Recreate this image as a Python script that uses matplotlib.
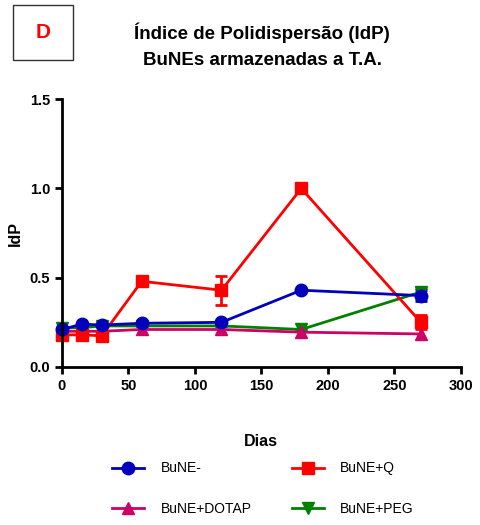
import numpy as np
import matplotlib
matplotlib.use("Agg")
import matplotlib.pyplot as plt
from matplotlib.patches import Rectangle

plt.rcParams['font.family'] = ['Liberation Sans', 'DejaVu Sans']

# dias de armazenamento
dias = [0, 15, 30, 60, 120, 180, 270]

bune = [0.21, 0.24, 0.235, 0.245, 0.25, 0.43, 0.40]
bune_err = [0, 0, 0, 0, 0, 0, 0.03]
bune_q = [0.18, 0.18, 0.175, 0.48, 0.43, 1.0, 0.25]
bune_q_err = [0, 0, 0, 0.02, 0.08, 0, 0.04]
bune_dotap = [0.20, 0.20, 0.20, 0.21, 0.21, 0.195, 0.185]
bune_peg = [0.22, 0.22, 0.23, 0.23, 0.23, 0.21, 0.42]
peg_err = [0, 0, 0, 0, 0, 0, 0.02]

fig = plt.figure(figsize=(4.8, 5.25), dpi=100)
ax = fig.add_axes([0.129, 0.301, 0.831, 0.510])

lw = 2
ebkw = dict(capsize=4, capthick=2, elinewidth=2, clip_on=False, lw=lw, ms=9)
hp = ax.errorbar(dias, bune_peg, yerr=peg_err, color='green', marker='v', **ebkw)
hd = ax.errorbar(dias, bune_dotap, color='#cc0066', marker='^', **ebkw)
hq = ax.errorbar(dias, bune_q, yerr=bune_q_err, color='red', marker='s', **ebkw)
hb = ax.errorbar(dias, bune, yerr=bune_err, color='#0000bb', marker='o', **ebkw)

ax.set_xlim(0, 300)
ax.set_ylim(0, 1.5)
ax.set_xticks(np.arange(0, 301, 50))
ax.set_yticks([0, 0.5, 1.0, 1.5])
ax.set_yticklabels(['0.0', '0.5', '1.0', '1.5'])
for s in ['top', 'right']:
    ax.spines[s].set_visible(False)
for s in ['left', 'bottom']:
    ax.spines[s].set_linewidth(2)
ax.tick_params(width=2, length=5, labelsize=10.5)
for lab in ax.get_xticklabels() + ax.get_yticklabels():
    lab.set_fontweight('bold')

ax.set_xlabel('Dias', fontsize=11.5, fontweight='bold', labelpad=30)
ax.set_ylabel('IdP', fontsize=11.5, fontweight='bold')
ax.yaxis.set_label_coords(-0.098, 0.5)

fig.text(0.546, 0.937, 'Índice de Polidispersão (IdP)', ha='center', va='center',
         fontsize=13.5, fontweight='bold')
fig.text(0.546, 0.884, 'BuNEs armazenadas a T.A.', ha='center', va='center',
         fontsize=13.5, fontweight='bold')

fig.patches.append(Rectangle((13 / 480, 1 - 60 / 525), 60 / 480, 55 / 525,
                             transform=fig.transFigure, fill=False, ec='#333333', lw=1))
fig.text(43 / 480, 1 - 33 / 525, 'D', ha='center', va='center', color='red',
         fontsize=15, fontweight='bold')

leg = fig.legend([hb[0], hd[0], hq[0], hp[0]],
                 ['BuNE-', 'BuNE+DOTAP', 'BuNE+Q', 'BuNE+PEG'],
                 ncol=2, loc='upper left', bbox_to_anchor=(0.207, 0.145), frameon=False,
                 fontsize=10, labelspacing=1.9, columnspacing=2.9, handlelength=2.3,
                 handletextpad=1.2)

fig.savefig('out.png', dpi=100)
